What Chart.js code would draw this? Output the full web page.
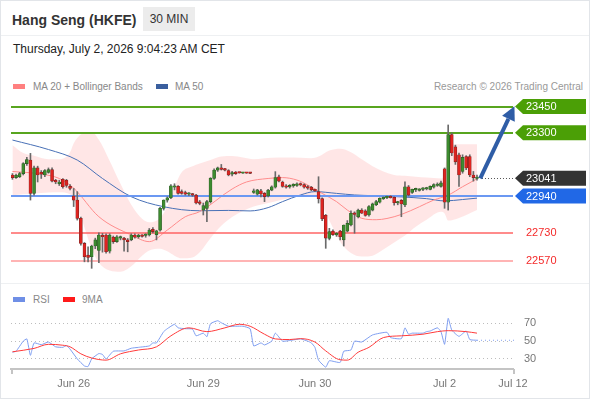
<!DOCTYPE html>
<html>
<head>
<meta charset="utf-8">
<title>Hang Seng (HKFE) 30 MIN</title>
<script src="https://cdn.jsdelivr.net/npm/chart.js@4.4.1/dist/chart.umd.min.js"></script>
<style>
  html, body { margin: 0; padding: 0; background: #fff; }
  body { width: 590px; height: 400px; position: relative; overflow: hidden; font-family: "Liberation Sans", Arial, sans-serif; }
  .frame { position: absolute; left: 0; top: 0; width: 588px; height: 397px; border: 1px solid #e2e5e9; }
  .sep { position: absolute; left: 1px; width: 588px; height: 1px; background: #eef0f2; }
  .title { position: absolute; left: 12px; top: 12px; font-size: 14px; font-weight: bold; color: #333; }
  .badge { position: absolute; left: 143px; top: 7px; width: 52px; height: 24px; line-height: 24px; background: #ececec; text-align: center; font-size: 12px; color: #333; }
  .date { position: absolute; left: 13px; top: 42px; font-size: 12px; color: #222; }
  .lg { position: absolute; font-size: 10px; color: #888; line-height: 12px; }
  .sw { position: absolute; width: 12px; height: 5px; }
  #main { position: absolute; left: 0; top: 92px; }
  #rsi { position: absolute; left: 0; top: 290px; }
</style>
</head>
<body>
<div class="frame"></div>
<div class="sep" style="top:35px"></div>
<div class="sep" style="top:283px"></div>
<div class="title">Hang Seng (HKFE)</div>
<div class="badge">30 MIN</div>
<div class="date">Thursday, July 2, 2026 9:04:23 AM CET</div>

<div class="sw" style="left:13px;top:84px;background:#ff8080"></div>
<div class="lg" style="left:33px;top:81px">MA 20 + Bollinger Bands</div>
<div class="sw" style="left:156px;top:84px;background:#3a5f9e"></div>
<div class="lg" style="left:175px;top:81px">MA 50</div>
<div class="lg" style="right:7px;top:81px;color:#999">Research © 2026 Trading Central</div>

<div class="sw" style="left:13px;top:297px;background:#6f8fe6"></div>
<div class="lg" style="left:33px;top:294px">RSI</div>
<div class="sw" style="left:63px;top:297px;background:#ff1a1a"></div>
<div class="lg" style="left:82px;top:294px">9MA</div>

<canvas id="main" width="590" height="186"></canvas>
<canvas id="rsi" width="590" height="108"></canvas>

<script>
// 30-min candles, index 0 = first bar on the left
const candleOpen = [
  23060,23045,23050,23068,23125,23145,22955,23100,23075,23060,
  23075,23090,23030,23010,23035,23030,22995,22940,22917,22813,
  22670,22603,22594,22655,22630,22715,22718,22625,22705,22680,
  22700,22700,22690,22690,22718,22708,22712,22715,22718,22750,
  22720,22746,22870,22917,22930,22990,22995,22965,22960,22950,
  22948,22945,22905,22860,22870,22908,23041,23088,23100,23092,
  23085,23065,23075,23072,23070,23071,23070,22960,22950,22970,
  22955,22940,22974,22990,23050,23020,22998,22992,22998,23000,
  23008,23005,22990,22990,22975,22965,22925,22830,22699,22740,
  22718,22740,22690,22740,22775,22840,22822,22860,22855,22832,
  22860,22890,22905,22925,22930,22938,22932,22900,22915,22889,
  22993,22960,22975,22972,22978,22980,22978,22990,23000,22995,
  23095,22905,23290,23220,23175,23080,23165,23165,23060,23040
];
const candleHigh = [
  23068,23065,23075,23130,23160,23183,23110,23110,23085,23090,
  23100,23100,23035,23030,23040,23035,23005,22983,22965,22820,
  22675,22650,22660,22700,22730,22727,22725,22725,22712,22715,
  22712,22705,22698,22725,22725,22722,22720,22725,22755,22760,
  22745,22875,22918,22935,23005,23010,23000,22975,22968,22960,
  22955,22950,22915,22900,22915,23045,23095,23105,23120,23098,
  23090,23080,23080,23073,23072,23073,23071,22980,22978,22978,
  22960,22978,22998,23079,23060,23025,23005,23005,23010,23015,
  23015,23010,23000,22995,22980,23050,22930,22835,22756,22748,
  22732,22745,22775,22800,22855,22850,22865,22868,22862,22885,
  22900,22915,22930,22935,22940,22942,22936,22910,22920,23021,
  23000,22980,22985,22982,22988,22990,22998,23010,23015,23025,
  23100,23345,23300,23230,23185,23175,23170,23175,23080,23060
];
const candleLow = [
  23035,23040,23045,23060,23115,22917,22945,23020,23040,23050,
  23070,23020,23010,23000,22985,22990,22975,22880,22803,22660,
  22565,22565,22528,22640,22560,22620,22615,22615,22670,22675,
  22690,22625,22622,22685,22700,22700,22705,22705,22712,22730,
  22690,22740,22860,22905,22925,22975,22950,22950,22945,22942,
  22938,22895,22890,22832,22794,22900,23035,23080,23088,23083,
  23055,23055,23063,23070,23069,23069,23068,22955,22945,22935,
  22908,22935,22970,22985,23020,22990,22985,22985,22990,22995,
  22998,22985,22978,22970,22965,22900,22800,22642,22690,22715,
  22710,22690,22655,22735,22770,22728,22815,22840,22825,22825,
  22855,22885,22900,22920,22925,22928,22888,22890,22822,22880,
  22940,22955,22965,22968,22970,22975,22975,22985,22995,22990,
  22870,22860,23170,23120,22995,23070,23090,23050,23025,23030
];
const candleClose = [
  23045,23058,23068,23125,23148,22955,23100,23060,23065,23085,
  23090,23025,23020,23020,22993,23000,22983,22917,22813,22670,
  22594,22590,22655,22690,22718,22708,22623,22718,22680,22708,
  22705,22690,22680,22718,22705,22718,22710,22718,22746,22737,
  22742,22870,22917,22930,22998,22995,22955,22955,22950,22955,
  22945,22900,22898,22885,22908,23041,23088,23100,23092,23088,
  23060,23070,23068,23071,23071,23070,23069,22970,22975,22952,
  22937,22974,22993,23045,23025,22995,22990,22998,23003,23010,
  23003,22990,22985,22975,22970,22925,22810,22700,22737,22720,
  22728,22708,22775,22784,22842,22835,22860,22842,22830,22880,
  22895,22908,22927,22932,22935,22930,22902,22905,22895,22993,
  22945,22978,22978,22978,22982,22984,22995,23005,23008,23015,
  22905,23290,23185,23135,23060,23160,23100,23060,23045,23041
];

// MA 20 and MA 50 read at sample bars
const ma20Idx = [0,8,13,17,24,33,38,43,48,52,61,65,71,75,79,82,86,90,93,97,101,104,108,113,117,121,125,129];
const ma20Val = [23080,23065,23040,22985,22822,22718,22680,22746,22822,22851,22980,23020,23040,23045,23031,23003,22955,22908,22860,22813,22805,22812,22835,22879,22917,22945,22993,23038];
const ma50Idx = [0,10,18,25,33,42,52,60,66,71,75,80,84,90,95,100,108,115,120,125,129];
const ma50Val = [23259,23205,23145,23040,22936,22879,22856,22858,22855,22874,22908,22946,22965,22955,22946,22942,22935,22925,22912,22920,22928];

// Bollinger bands
const bandIdx = [0,3,6,10,13,16,17,19,22,24,27,30,33,36,38,41,43,45,47,50,52,55,58,61,64,67,72,76,80,83,85,88,91,94,97,100,103,106,109,112,115,119,120,121,124,129];
const bandUpper = [23230,23185,23170,23150,23150,23190,23240,23290,23305,23260,23140,23010,22890,22810,22790,22815,22880,22990,23075,23110,23125,23145,23165,23168,23160,23150,23158,23160,23158,23155,23165,23200,23210,23190,23150,23110,23080,23060,23055,23050,23045,23040,23070,23215,23235,23235];
const bandLower = [22945,22950,22955,22960,22962,22950,22920,22820,22640,22560,22515,22508,22540,22600,22630,22640,22625,22600,22585,22590,22620,22700,22770,22820,22855,22880,22905,22925,22938,22945,22925,22800,22680,22615,22595,22600,22635,22675,22715,22765,22805,22850,22840,22800,22815,22860];

// key levels
const resistance = [23450, 23300];
const pivotLevel = 22940;
const supports = [22730, 22570];
const arrowFrom = [129.9, 23041];
const arrowTo = [139.4, 23452];

// RSI panel
const rsiIdx = [0,1,3,4,5,6,8,10,12,14,15,16,18,20,21,22,24,25,26,28,31,33,35,38,39,40,42,43,45,46,48,50,51,53,54,55,57,58,60,62,64,66,67,69,70,72,73,75,77,80,82,83,84,85,87,88,91,92,94,95,97,100,104,105,108,109,110,111,114,115,116,118,119,120,121,122,124,126,127,129];
const rsiVal = [37.5,38.6,50,52.5,34,48,46,49,43.6,43,45,41,30,22,21.4,30,36,35,30,38.6,39,42,43,44.6,48,48,60.7,64,69,65,64,63.6,56,59,55,69.6,73,70.7,66.8,66.8,66.8,64,44.6,48,45.7,50,59,50,50.7,52.5,50,48,43,28.6,20.7,27.9,26,38.6,40,50,49,57,60,54,52.8,65,57.8,59,59,60.7,61.4,65,60.7,46.4,75.7,62.5,55.4,61.4,51.8,51];
const rsiMaIdx = [0,6,10,14,16,19,22,26,30,35,40,44,49,54,59,63,66,70,73,77,80,84,87,91,93,96,99,103,108,114,118,121,126,129];
const rsiMaVal = [38,41.8,46.4,45.4,43.6,35.7,31,28.6,35.7,40,43.6,56,65,60.7,65,69,66.8,57.8,52.5,51.8,52.8,49,39,29,28.6,37.5,43,54,56,57.8,60.7,61.8,60.7,59];
const rsiTicks = [30, 50, 70];

// x axis
const tickIdx = [17, 53, 84, 120, 139];
const tickLabels = ['Jun 26', 'Jun 29', 'Jun 30', 'Jul 2', 'Jul 12'];

const X_MIN = -0.4, X_MAX = 139;
const pts = (idx, vals) => idx.map((v, i) => ({ x: v, y: vals[i] }));
const lastIdx = candleClose.length - 1;
const lastPrice = candleClose[lastIdx];

Chart.defaults.font.family = '"Liberation Sans", Arial, sans-serif';
Chart.defaults.animation = false;

function tag(ctx, xTip, yc, text, bg, right) {
  ctx.fillStyle = bg;
  ctx.beginPath();
  ctx.moveTo(xTip, yc);
  ctx.lineTo(xTip + 8, yc - 7.5);
  ctx.lineTo(right, yc - 7.5);
  ctx.lineTo(right, yc + 7.5);
  ctx.lineTo(xTip + 8, yc + 7.5);
  ctx.closePath();
  ctx.fill();
  ctx.fillStyle = '#fff';
  ctx.font = '11px "Liberation Sans", Arial';
  ctx.textBaseline = 'middle';
  ctx.textAlign = 'left';
  ctx.fillText(text, xTip + 11, yc + 0.5);
}

function hline(ctx, a, py, color, w) {
  const yy = Math.round(py);
  ctx.strokeStyle = color;
  ctx.lineWidth = w;
  ctx.setLineDash([]);
  ctx.beginPath();
  ctx.moveTo(a.left, yy);
  ctx.lineTo(a.right, yy);
  ctx.stroke();
}

const levelsPlugin = {
  id: 'levels',
  beforeDatasetDraw(chart, args) {
    if (chart.data.datasets[args.index].label !== 'wicks') return;
    const { ctx, chartArea: a, scales: { y } } = chart;
    ctx.save();
    resistance.forEach(v => hline(ctx, a, y.getPixelForValue(v), '#58a51f', 2));
    hline(ctx, a, y.getPixelForValue(pivotLevel), '#6b98f2', 2);
    hline(ctx, a, y.getPixelForValue(supports[0]), '#ff6464', 1.5);
    hline(ctx, a, y.getPixelForValue(supports[1]), '#ffb4b4', 2);
    ctx.restore();
  },
  afterDraw(chart) {
    const { ctx, chartArea: a, scales: { x, y } } = chart;
    ctx.save();
    // dotted last price
    const yl = Math.round(y.getPixelForValue(lastPrice)) + 0.5;
    ctx.strokeStyle = '#555';
    ctx.lineWidth = 1;
    ctx.setLineDash([1, 2]);
    ctx.beginPath();
    ctx.moveTo(x.getPixelForValue(lastIdx) + 5, yl);
    ctx.lineTo(a.right, yl);
    ctx.stroke();
    ctx.setLineDash([]);

    // forecast arrow
    const x0 = x.getPixelForValue(arrowFrom[0]), y0 = y.getPixelForValue(arrowFrom[1]);
    const x1 = x.getPixelForValue(arrowTo[0]), y1 = y.getPixelForValue(arrowTo[1]);
    const ang = Math.atan2(y1 - y0, x1 - x0);
    const head = 14, hw = 7;
    const bx = x1 - head * Math.cos(ang), by = y1 - head * Math.sin(ang);
    ctx.strokeStyle = '#2f5da6';
    ctx.fillStyle = '#2f5da6';
    ctx.lineWidth = 4;
    ctx.beginPath();
    ctx.moveTo(x0, y0);
    ctx.lineTo(bx, by);
    ctx.stroke();
    ctx.beginPath();
    ctx.moveTo(x1, y1);
    ctx.lineTo(bx + hw * Math.sin(ang), by - hw * Math.cos(ang));
    ctx.lineTo(bx - hw * Math.sin(ang), by + hw * Math.cos(ang));
    ctx.closePath();
    ctx.fill();

    // right-hand labels
    const tip = a.right + 2, right = chart.width - 4;
    resistance.forEach(v => tag(ctx, tip, y.getPixelForValue(v), String(v), '#4b9f06', right));
    tag(ctx, tip, y.getPixelForValue(lastPrice), String(lastPrice), '#333', right);
    tag(ctx, tip, y.getPixelForValue(pivotLevel), String(pivotLevel), '#2168e6', right);
    ctx.fillStyle = '#f42a2a';
    ctx.font = '11px "Liberation Sans", Arial';
    ctx.textBaseline = 'middle';
    supports.forEach(v => ctx.fillText(String(v), tip + 11, y.getPixelForValue(v) + 0.5));
    ctx.restore();
  }
};

const upColor = '#3d8b2f', downColor = '#de2420';
new Chart(document.getElementById('main'), {
  type: 'bar',
  data: {
    datasets: [
      {
        type: 'line', label: 'bbUpper', data: pts(bandIdx, bandUpper),
        borderWidth: 0, pointRadius: 0, fill: '+1', backgroundColor: 'rgba(255,200,200,0.45)',
        cubicInterpolationMode: 'monotone', order: 5
      },
      {
        type: 'line', label: 'bbLower', data: pts(bandIdx, bandLower),
        borderWidth: 0, pointRadius: 0, fill: false,
        cubicInterpolationMode: 'monotone', order: 5
      },
      {
        type: 'line', label: 'MA 20', data: pts(ma20Idx, ma20Val),
        borderColor: '#ff8c8c', borderWidth: 1, pointRadius: 0, fill: false,
        cubicInterpolationMode: 'monotone', order: 4
      },
      {
        type: 'line', label: 'MA 50', data: pts(ma50Idx, ma50Val),
        borderColor: '#4870b6', borderWidth: 1, pointRadius: 0, fill: false,
        cubicInterpolationMode: 'monotone', order: 4
      },
      {
        label: 'wicks',
        data: candleLow.map((l, i) => ({ x: i, y: [l, candleHigh[i]] })),
        backgroundColor: '#6a6a6a', barThickness: 1, grouped: false, order: 2
      },
      {
        label: 'bodies',
        data: candleOpen.map((o, i) => ({ x: i, y: [o, candleClose[i]] })),
        backgroundColor: candleOpen.map((o, i) => candleClose[i] >= o ? upColor : downColor),
        borderColor: candleOpen.map((o, i) => candleClose[i] >= o ? '#2a5a22' : '#7e2220'),
        borderWidth: 0.6, borderSkipped: false,
        barThickness: 3, minBarLength: 1.5, grouped: false, order: 1
      }
    ]
  },
  options: {
    responsive: false,
    layout: { padding: { left: 11, right: 77, top: 4, bottom: 6 } },
    plugins: { legend: { display: false }, tooltip: { enabled: false } },
    scales: {
      x: { type: 'linear', min: X_MIN, max: X_MAX, offset: false, display: false },
      y: { type: 'linear', min: 22507, max: 23510, display: false }
    }
  },
  plugins: [levelsPlugin]
});

const axisEnds = {
  id: 'axisEnds',
  afterDraw(chart) {
    const { ctx, chartArea: a } = chart;
    ctx.save();
    ctx.strokeStyle = '#c4c4c4';
    ctx.lineWidth = 2;
    ctx.beginPath();
    ctx.moveTo(a.left + 1, a.bottom); ctx.lineTo(a.left + 1, a.bottom + 5);
    ctx.moveTo(a.right + 1, a.bottom); ctx.lineTo(a.right + 1, a.bottom + 5);
    ctx.stroke();
    ctx.restore();
  }
};

new Chart(document.getElementById('rsi'), {
  type: 'line',
  data: {
    datasets: [
      {
        label: 'RSI', data: pts(rsiIdx, rsiVal),
        borderColor: '#7f9ef0', borderWidth: 1, pointRadius: 0, tension: 0.15, order: 2
      },
      {
        label: 'RSI ext', data: [{ x: lastIdx, y: rsiVal[rsiVal.length - 1] }, { x: 140.1, y: rsiVal[rsiVal.length - 1] }],
        borderColor: '#7f9ef0', borderWidth: 1, borderDash: [1, 3], pointRadius: 0, clip: false, order: 3
      },
      {
        label: '9MA', data: pts(rsiMaIdx, rsiMaVal),
        borderColor: '#ff3a3a', borderWidth: 1, pointRadius: 0,
        cubicInterpolationMode: 'monotone', order: 1
      }
    ]
  },
  options: {
    responsive: false,
    layout: { autoPadding: false, padding: { left: 11, right: 0, top: 5, bottom: 0 } },
    plugins: { legend: { display: false }, tooltip: { enabled: false } },
    scales: {
      x: {
        type: 'linear', min: X_MIN, max: X_MAX, offset: false,
        afterBuildTicks: s => { s.ticks = tickIdx.map(v => ({ value: v })); },
        afterFit: s => { s.height = 29; },
        grid: { display: false, drawTicks: false },
        border: { display: true, color: '#c4c4c4', width: 2 },
        ticks: {
          autoSkip: false, maxRotation: 0, padding: 8, color: '#777', font: { size: 11 },
          callback: v => tickLabels[tickIdx.indexOf(v)] || ''
        }
      },
      y: {
        position: 'right', min: 18.6, max: 87.8,
        afterBuildTicks: s => { s.ticks = rsiTicks.map(v => ({ value: v })); },
        afterFit: s => { s.width = 77; },
        grid: { color: '#bdbdbd', drawTicks: false },
        border: { display: false, dash: [1, 3] },
        ticks: { padding: 11, color: '#777', font: { size: 11 } }
      }
    }
  },
  plugins: [axisEnds]
});
</script>
</body>
</html>
